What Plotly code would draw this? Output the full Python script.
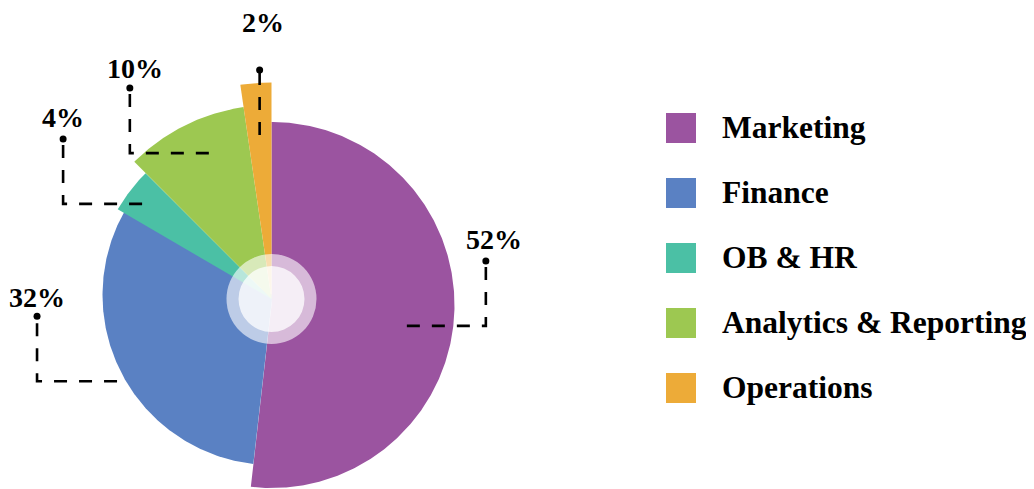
import numpy as np
import plotly.graph_objects as go

# ---------------- data ----------------
categories = ["Marketing", "Finance", "OB & HR", "Analytics & Reporting", "Operations"]
shares = [51.8, 31.6, 4.1, 10.2, 2.3]          # percent of total
pct_labels = ["52%", "32%", "4%", "10%", "2%"]

# ---------------- styles ----------------
colors = ["#9B54A0", "#5A81C3", "#4BC0A5", "#9DC851", "#EDAB38"]
radii = [183, 170, 178, 194, 216.5]                 # outer radius of each slice (px units)
apex_shift = [(0, -6), (1, 4), (0, 0), (0, 0), (0, 0)]
lead_nudge = [8.0, -1.4, -1.3, 3.4, 0.0]            # leader start angle offset from mid angle
lead_r = [138, 175, 160.6, 158.8, 164.4]            # leader start radius
lead_hx = [79, -80, -79, -79, 0]                    # horizontal leader run
lead_vy = 65                                        # vertical leader run
label_off = [(8, 21), (0, 19), (0, 21), (5, 20), (3, 48)]

W, H = 1034, 489
PAD = 8                      # browser default body margin around the plot div
CX, CY = 271.5 - PAD, 299 - PAD   # pie centre in figure pixels (from top-left)
FONT = "Liberation Serif, Times New Roman, serif"

fig = go.Figure()

# ---------------- slices ----------------
ends = np.cumsum(shares) * 3.6
starts = np.concatenate([[0], ends[:-1]])
for i, cat in enumerate(categories):
    a0, a1 = starts[i], ends[i]
    th = np.radians(np.linspace(a0, a1, max(int((a1 - a0) * 2), 8)))
    ox, oy = apex_shift[i]
    xs = np.concatenate([[ox], ox + radii[i] * np.sin(th), [ox]])
    ys = np.concatenate([[oy], oy + radii[i] * np.cos(th), [oy]])
    fig.add_trace(go.Scatter(x=xs, y=ys, fill="toself", mode="lines",
                             line=dict(width=0, color=colors[i]),
                             fillcolor=colors[i], hoverinfo="skip",
                             showlegend=False, name=cat))

# ---------------- leader lines + labels ----------------
annotations = []
for i, cat in enumerate(categories):
    mid = (starts[i] + ends[i]) / 2 + lead_nudge[i]
    sx = lead_r[i] * np.sin(np.radians(mid))
    sy = lead_r[i] * np.cos(np.radians(mid))
    ex, ey = sx + lead_hx[i], sy
    dx_, dy_ = ex, ey + lead_vy
    fig.add_trace(go.Scatter(x=[sx, ex, dx_], y=[sy, ey, dy_], mode="lines",
                             line=dict(color="black", width=2.6, dash="13px,12px"),
                             hoverinfo="skip", showlegend=False))
    fig.add_trace(go.Scatter(x=[dx_], y=[dy_], mode="markers",
                             marker=dict(color="black", size=7),
                             hoverinfo="skip", showlegend=False))
    annotations.append(dict(x=dx_ + label_off[i][0], y=dy_ + label_off[i][1],
                            text="<b>%s</b>" % pct_labels[i], showarrow=False,
                            xanchor="center", yanchor="middle",
                            font=dict(family=FONT, size=28, color="black")))

# ---------------- legend (manual) ----------------
leg_top, leg_step = 128 - PAD, 65
leg_y = [CY - (leg_top + leg_step * i) for i in range(len(categories))]
fig.add_trace(go.Scatter(x=[681 - PAD - CX] * len(categories), y=leg_y, mode="markers",
                         marker=dict(symbol="square", size=30, color=colors,
                                     line=dict(width=0)),
                         hoverinfo="skip", showlegend=False))
for i, cat in enumerate(categories):
    annotations.append(dict(x=720 - PAD - CX, y=leg_y[i] + 1, text="<b>%s</b>" % cat,
                            showarrow=False, xanchor="left", yanchor="middle",
                            font=dict(family=FONT, size=31.5, color="black")))

# ---------------- centre decoration ----------------
shapes = [
    dict(type="circle", xref="x", yref="y", x0=-45, y0=-45, x1=45, y1=45,
         fillcolor="rgba(255,255,255,0.6)", line=dict(width=0), layer="above"),
    dict(type="circle", xref="x", yref="y", x0=-33, y0=-33, x1=33, y1=33,
         fillcolor="rgba(255,255,255,0.75)", line=dict(width=0), layer="above"),
]

fig.update_layout(
    width=W, height=H,
    margin=dict(l=0, r=0, t=0, b=0),
    paper_bgcolor="white", plot_bgcolor="white",
    xaxis=dict(range=[-CX, W - CX], visible=False, fixedrange=True),
    yaxis=dict(range=[-(H - CY), CY], visible=False, fixedrange=True),
    annotations=annotations, shapes=shapes,
    showlegend=False,
)

fig.write_html("out.html")
